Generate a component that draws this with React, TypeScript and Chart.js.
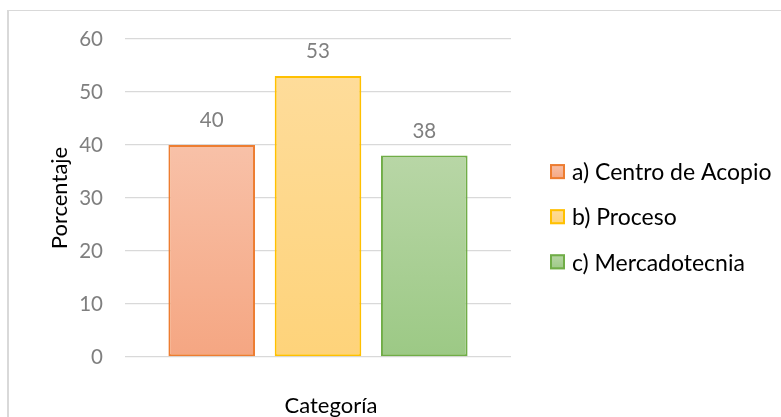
import React, { useEffect, useRef } from "react";
import { Chart, registerables } from "chart.js";

Chart.register(...registerables);

const categories = [""];
const seriesNames = ["a) Centro de Acopio", "b) Proceso", "c) Mercadotecnia"];
const centroValues = [40];
const procesoValues = [53];
const mercadoValues = [38];
const yTicks = [0, 10, 20, 30, 40, 50, 60];
const yTitle = "Porcentaje";
const xTitle = "Categoría";

const borderColors = ["#ED7D31", "#FFC000", "#70AD47"];
const topColors = ["#F8C1A8", "#FEDC9A", "#B8D6A6"];
const bottomColors = ["#F5A682", "#FED37A", "#9CC985"];

const FONT = "Lato, 'Open Sans', sans-serif";
const W = 781;
const H = 417;

function barGradient(i: number) {
  return (c: any) => {
    const chart = c.chart;
    const y = chart.scales && chart.scales.y;
    if (!chart.chartArea || !y || c.raw == null) return topColors[i];
    const top = y.getPixelForValue(c.raw);
    const bottom = y.getPixelForValue(0);
    const g = chart.ctx.createLinearGradient(0, top, 0, bottom);
    g.addColorStop(0, topColors[i]);
    g.addColorStop(1, bottomColors[i]);
    return g;
  };
}

const valueLabels = {
  id: "valueLabels",
  afterDatasetsDraw(chart: any) {
    const ctx = chart.ctx;
    ctx.save();
    ctx.font = `20.5px ${FONT}`;
    ctx.fillStyle = "#7F7F7F";
    ctx.textAlign = "center";
    ctx.textBaseline = "alphabetic";
    chart.data.datasets.forEach((ds: any, i: number) => {
      const meta = chart.getDatasetMeta(i);
      meta.data.forEach((el: any, j: number) => {
        ctx.fillText(String(ds.data[j]), el.x, el.y - 18);
      });
    });
    ctx.restore();
  },
};

const xAxisTitle = {
  id: "xAxisTitle",
  afterDraw(chart: any) {
    const ctx = chart.ctx;
    const area = chart.chartArea;
    ctx.save();
    ctx.font = `22px ${FONT}`;
    ctx.fillStyle = "#000000";
    ctx.textAlign = "center";
    ctx.textBaseline = "middle";
    ctx.fillText(xTitle, (area.left + area.right) / 2 + 13, 406);
    ctx.restore();
  },
};

const sideLegend = {
  id: "sideLegend",
  afterDraw(chart: any) {
    const ctx = chart.ctx;
    const area = chart.chartArea;
    const cy = (area.top + area.bottom) / 2;
    const boxX = area.right + 39;
    const textX = area.right + 61;
    const size = 15;
    ctx.save();
    chart.data.datasets.forEach((ds: any, i: number) => {
      const yc = cy - 26.4 + i * 45.1;
      const g = ctx.createLinearGradient(0, yc - size / 2, 0, yc + size / 2);
      g.addColorStop(0, topColors[i]);
      g.addColorStop(1, bottomColors[i]);
      ctx.fillStyle = g;
      ctx.fillRect(boxX, yc - size / 2, size, size);
      ctx.strokeStyle = borderColors[i];
      ctx.lineWidth = 2;
      ctx.strokeRect(boxX + 1, yc - size / 2 + 1, size - 2, size - 2);
      ctx.fillStyle = "#000000";
      ctx.font = `23px ${FONT}`;
      ctx.textAlign = "left";
      ctx.textBaseline = "middle";
      ctx.fillText(ds.label, textX, yc + 1.3);
    });
    ctx.restore();
  },
};

export default function App() {
  const ref = useRef<HTMLCanvasElement | null>(null);

  useEffect(() => {
    if (!ref.current) return;
    const values = [centroValues, procesoValues, mercadoValues];
    const chart = new Chart(ref.current, {
      type: "bar",
      data: {
        labels: categories,
        datasets: seriesNames.map((name, i) => ({
          label: name,
          data: values[i],
          backgroundColor: barGradient(i),
          borderColor: borderColors[i],
          borderWidth: 2,
          borderSkipped: false,
          categoryPercentage: 0.826,
          barPercentage: 0.815,
        })),
      },
      options: {
        responsive: false,
        animation: false,
        events: [],
        layout: { padding: { left: 48.5, right: W - 511, top: 39, bottom: 0 } },
        plugins: {
          legend: { display: false },
          tooltip: { enabled: false },
        },
        scales: {
          x: {
            type: "category",
            grid: { display: false },
            border: { display: false },
            ticks: { display: false },
            title: { display: false, text: xTitle },
            afterFit(scale: any) {
              scale.height = H - 357;
            },
          },
          y: {
            min: yTicks[0],
            max: yTicks[yTicks.length - 1],
            ticks: {
              stepSize: yTicks[1] - yTicks[0],
              color: "#7F7F7F",
              font: { family: FONT, size: 20.5 },
              padding: 22,
            },
            grid: { color: "#D9D9D9", lineWidth: 1.3, drawTicks: false },
            border: { display: false },
            title: {
              display: true,
              text: yTitle,
              color: "#000000",
              font: { family: FONT, size: 22, lineHeight: 1 },
              padding: 0,
            },
            afterFit(scale: any) {
              scale.width = 125 - 48.5;
            },
          },
        },
      },
      plugins: [valueLabels, xAxisTitle, sideLegend],
    });
    return () => chart.destroy();
  }, []);

  return (
    <div
      style={{
        position: "fixed",
        left: 0,
        top: 0,
        width: W,
        height: H,
        overflow: "hidden",
        background: "#ffffff",
      }}
    >
      <div
        style={{
          position: "absolute",
          left: 7,
          top: 10,
          width: 820,
          height: 440,
          borderTop: "1px solid #D9D9D9",
          borderLeft: "2px solid #D9D9D9",
        }}
      />
      <canvas
        ref={ref}
        width={W}
        height={H}
        style={{ position: "absolute", left: 0, top: 0, display: "block" }}
      />
    </div>
  );
}
